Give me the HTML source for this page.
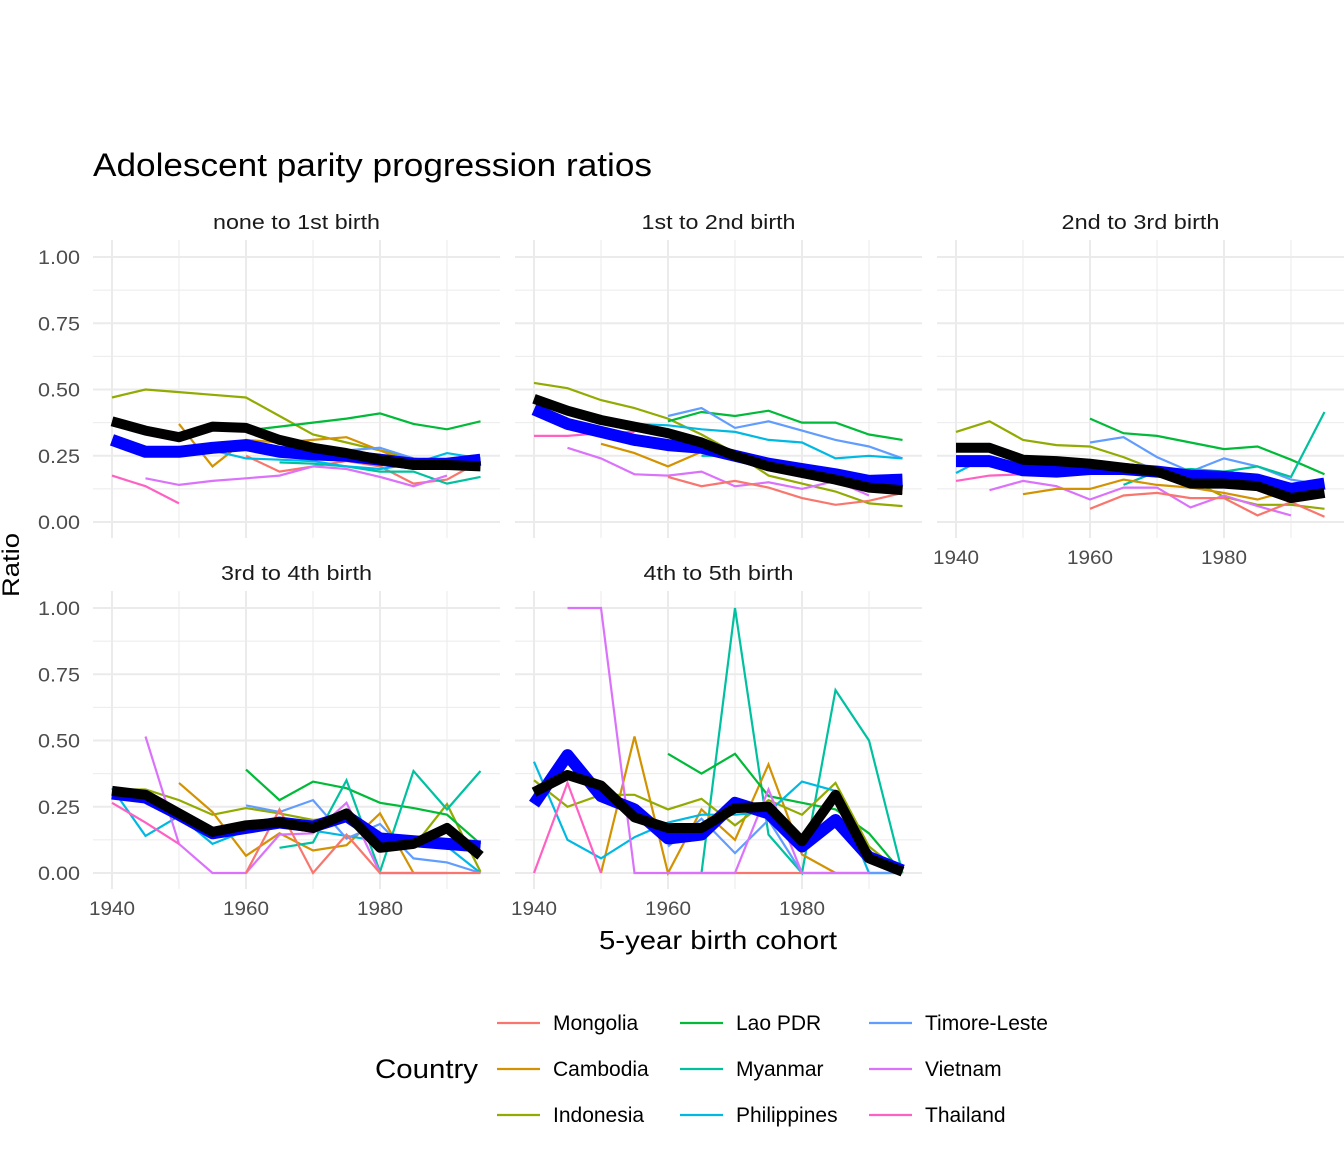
<!DOCTYPE html>
<html><head><meta charset="utf-8"><style>
body{margin:0;background:#fff;}
svg{display:block;font-family:"Liberation Sans",Arial,sans-serif;}
</style></head><body>
<svg id="s" width="1344" height="1152" xmlns="http://www.w3.org/2000/svg"></svg>
<script>
const N=null;
const cols={Mongolia:"#F8766D",Cambodia:"#D39200",Indonesia:"#93AA00","Lao PDR":"#00BA38",Myanmar:"#00C19F",Philippines:"#00B9E3","Timore-Leste":"#619CFF",Vietnam:"#DB72FB",Thailand:"#FF61C3"};
const P=[
{title:"none to 1st birth",tl:167,x0:93,y0:240,d:{
Indonesia:[.47,.50,.49,.48,.47,.40,.33,.30,.27,.24,.22,.21],
"Lao PDR":[N,N,N,N,.345,.36,.375,.39,.41,.37,.35,.38],
Cambodia:[N,N,.37,.21,.31,.30,.31,.32,.27,.22,.21,.23],
Mongolia:[N,N,N,N,.25,.19,.21,.23,.21,.145,.16,.23],
Myanmar:[N,N,N,N,N,.225,.22,.21,.19,.19,.145,.17],
Philippines:[N,N,N,.27,.24,.235,.23,.21,.20,.22,.26,.24],
"Timore-Leste":[N,N,N,N,N,N,.26,.27,.28,.24,.22,.24],
Vietnam:[N,.165,.14,.155,.165,.175,.21,.20,.17,.135,.175,N],
Thailand:[.175,.135,.07,N,N,N,N,N,N,N,N,N]},
blue:[.31,.265,.265,.28,.29,.265,.255,.25,.235,.22,.22,.235],
black:[.38,.345,.32,.36,.355,.31,.28,.26,.235,.215,.215,.21]},
{title:"1st to 2nd birth",tl:154,x0:515,y0:240,d:{
Indonesia:[.525,.505,.46,.43,.39,.33,.26,.175,.145,.115,.07,.06],
"Lao PDR":[N,N,N,N,.38,.415,.40,.42,.375,.375,.33,.31],
"Timore-Leste":[N,N,N,N,.40,.43,.355,.38,.345,.31,.285,.24],
Philippines:[N,N,N,.37,.365,.35,.34,.31,.30,.24,.25,.24],
Thailand:[.325,.325,.335,.34,N,N,N,N,N,N,N,N],
Cambodia:[N,N,.295,.26,.21,.265,.24,N,N,N,N,N],
Vietnam:[N,.28,.24,.18,.175,.19,.135,.15,.125,.155,.10,N],
Mongolia:[N,N,N,N,.17,.135,.155,.13,.09,.065,.08,.11],
Myanmar:[N,N,N,N,N,.25,.25,.22,.20,.18,.16,.16]},
blue:[.425,.37,.34,.31,.29,.28,.25,.22,.20,.18,.155,.16],
black:[.465,.42,.385,.36,.335,.30,.25,.21,.185,.16,.13,.12]},
{title:"2nd to 3rd birth",tl:158,x0:937,y0:240,d:{
Indonesia:[.34,.38,.31,.29,.285,.245,.195,.16,.095,.065,.065,.05],
"Lao PDR":[N,N,N,N,.39,.335,.325,.30,.275,.285,.235,.18],
"Timore-Leste":[N,N,N,N,.30,.32,.245,.19,.24,.21,.16,.14],
Myanmar:[N,N,N,N,N,.14,.19,.20,.19,.21,.17,.415],
Philippines:[.185,.25,N,N,N,N,N,N,N,N,N,N],
Thailand:[.155,.175,.18,N,N,N,N,N,N,N,N,N],
Vietnam:[N,.12,.155,.135,.085,.13,.13,.055,.10,.06,.025,N],
Cambodia:[N,N,.105,.125,.125,.16,.14,.13,.11,.085,.12,N],
Mongolia:[N,N,N,N,.05,.10,.11,.09,.09,.025,.075,.02]},
blue:[.23,.23,.195,.19,.20,.20,.19,.175,.17,.16,.125,.145],
black:[.28,.28,.235,.23,.22,.205,.19,.145,.145,.135,.09,.11]},
{title:"3rd to 4th birth",tl:151,x0:93,y0:591,d:{
Indonesia:[.315,.315,.275,.22,.245,.225,.20,.21,.15,.10,.26,.005],
"Lao PDR":[N,N,N,N,.39,.275,.345,.32,.265,.245,.22,.11],
Cambodia:[N,N,.34,.23,.065,.15,.085,.105,.225,0,N,N],
Myanmar:[N,N,N,N,N,.095,.115,.35,.005,.385,.24,.385],
Philippines:[.32,.14,.215,.11,.16,.18,.16,.14,.12,.11,.10,0],
"Timore-Leste":[N,N,N,N,.255,.23,.275,.13,.185,.055,.04,0],
Vietnam:[N,.515,.11,0,0,.145,.15,.265,0,0,0,N],
Mongolia:[N,N,N,N,0,.24,0,.145,0,0,0,0],
Thailand:[.265,.19,.11,N,N,N,N,N,N,N,N,N]},
blue:[.30,.285,.22,.15,.17,.19,.175,.215,.13,.12,.11,.10],
black:[.31,.295,.225,.155,.18,.19,.17,.225,.095,.11,.17,.065]},
{title:"4th to 5th birth",tl:150,x0:515,y0:591,d:{
Myanmar:[N,N,N,N,N,0,1.0,.145,0,.69,.50,0],
Cambodia:[N,N,0,.515,0,.24,.125,.41,.07,0,N,N],
"Lao PDR":[N,N,N,N,.45,.375,.45,.29,.265,.24,.15,0],
Indonesia:[.35,.25,.295,.295,.24,.28,.18,.275,.22,.34,.10,0],
Philippines:[.42,.125,.055,.135,.19,.22,.22,.23,.345,.31,0,0],
"Timore-Leste":[N,N,N,N,.10,.205,.075,.20,0,0,0,0],
Thailand:[0,.34,0,N,N,N,N,N,N,N,N,N],
Mongolia:[N,N,N,N,0,0,0,0,0,N,N,N],
Vietnam:[N,1.0,1.0,0,0,0,0,.315,0,0,0,N]},
blue:[.26,.445,.29,.24,.13,.145,.265,.225,.10,.20,.06,.01],
black:[.305,.37,.33,.21,.17,.17,.245,.25,.12,.295,.055,.005]}
];
let h='';
const W=407,H=298;
const LA='lengthAdjust="spacingAndGlyphs"';
function X(p,yr){return p.x0+19+(yr-1940)*6.7;}
function Y(p,v){return p.y0+17+(1-v)*265;}
function path(p,arr){let s='',pen=false;arr.forEach((v,i)=>{if(v===null){pen=false;return;}s+=(pen?'L':'M')+X(p,1940+5*i).toFixed(1)+','+Y(p,v).toFixed(1);pen=true;});return s;}
P.forEach((p,k)=>{
 [.125,.375,.625,.875].forEach(v=>h+=`<line x1="${p.x0}" x2="${p.x0+W}" y1="${Y(p,v)}" y2="${Y(p,v)}" stroke="#ebebeb" stroke-width="1"/>`);
 [1950,1970,1990].forEach(yr=>h+=`<line x1="${X(p,yr)}" x2="${X(p,yr)}" y1="${p.y0}" y2="${p.y0+H}" stroke="#ebebeb" stroke-width="1"/>`);
 [0,.25,.5,.75,1].forEach(v=>h+=`<line x1="${p.x0}" x2="${p.x0+W}" y1="${Y(p,v)}" y2="${Y(p,v)}" stroke="#ebebeb" stroke-width="2"/>`);
 [1940,1960,1980].forEach(yr=>h+=`<line x1="${X(p,yr)}" x2="${X(p,yr)}" y1="${p.y0}" y2="${p.y0+H}" stroke="#ebebeb" stroke-width="2"/>`);
 h+=`<text x="${p.x0+W/2}" y="${p.y0-11}" font-size="20" fill="#1a1a1a" text-anchor="middle" textLength="${p.tl}" ${LA}>${p.title}</text>`;
 for(const c in p.d) h+=`<path d="${path(p,p.d[c])}" fill="none" stroke="${cols[c]}" stroke-width="2.2"/>`;
 h+=`<path d="${path(p,p.blue)}" fill="none" stroke="#0000ff" stroke-width="12" stroke-linejoin="round"/>`;
 h+=`<path d="${path(p,p.black)}" fill="none" stroke="#000" stroke-width="10" stroke-linejoin="round"/>`;
 if(p.x0===93) ['0.00','0.25','0.50','0.75','1.00'].forEach((t,i)=>h+=`<text x="80" y="${Y(p,i*.25)+7}" font-size="19" fill="#4d4d4d" text-anchor="end" textLength="42" ${LA}>${t}</text>`);
 if(k>=2) [1940,1960,1980].forEach(yr=>h+=`<text x="${X(p,yr)}" y="${p.y0+H+26}" font-size="19" fill="#4d4d4d" text-anchor="middle" textLength="46" ${LA}>${yr}</text>`);
});
h+=`<text x="93" y="176" font-size="32" fill="#000" textLength="559" ${LA}>Adolescent parity progression ratios</text>`;
h+=`<text transform="translate(19,565) rotate(-90)" font-size="24" fill="#000" text-anchor="middle" textLength="64" ${LA}>Ratio</text>`;
h+=`<text x="718" y="949" font-size="26" fill="#000" text-anchor="middle" textLength="238" ${LA}>5-year birth cohort</text>`;
h+=`<text x="375" y="1078" font-size="27" fill="#000" textLength="103" ${LA}>Country</text>`;
const leg=[["Mongolia","Cambodia","Indonesia"],["Lao PDR","Myanmar","Philippines"],["Timore-Leste","Vietnam","Thailand"]];
const lx=[497,680,869];
leg.forEach((col,i)=>col.forEach((c,j)=>{const y=1023+46*j;
 h+=`<line x1="${lx[i]}" x2="${lx[i]+43}" y1="${y}" y2="${y}" stroke="${cols[c]}" stroke-width="2.2"/>`;
 h+=`<text x="${lx[i]+56}" y="${y+7}" font-size="21" fill="#000">${c}</text>`;}));
document.getElementById('s').innerHTML=h;
</script>
</body></html>
